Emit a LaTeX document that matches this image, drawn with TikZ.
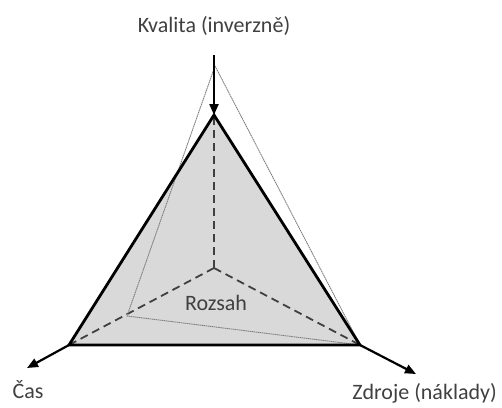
\documentclass[tikz,border=0pt]{standalone}
\usepackage{fontspec}
\setmainfont{Carlito}
\usetikzlibrary{arrows.meta}
\begin{document}
\begin{tikzpicture}[x=1pt,y=-1pt,
  lbl/.style={font=\fontsize{22}{26}\selectfont, text=black!75, inner sep=0pt},
  axisarrow/.style={line width=2.2pt, -{Triangle[length=11pt,width=9pt]}},
  thick tri/.style={line width=2.8pt, line join=miter},
  dashline/.style={line width=1.8pt, dash pattern=on 8pt off 5pt, black!75},
  thin tri/.style={line width=0.9pt, black!50, dash pattern=on 1.5pt off 0.6pt}]
\useasboundingbox (0,0) rectangle (502,407);
\coordinate (C) at (214,268);
\coordinate (T) at (214,115);
\coordinate (L) at (69,345);
\coordinate (R) at (360,345);
\coordinate (Ttop) at (214,55);
\coordinate (Lend) at (27,368);
\coordinate (Rend) at (416,374);
\coordinate (tT) at (215,66);
\coordinate (tL) at (127,316);
\fill[black!15] (T) -- (L) -- (R) -- cycle;
\draw[dashline] (C) -- (T);
\draw[dashline] (C) -- (L);
\draw[dashline] (C) -- (R);
\draw[thin tri] (tT) -- (tL) -- (R) -- cycle;
\draw[thick tri] (T) -- (L) -- (R) -- cycle;
\draw[axisarrow] (Ttop) -- (T);
\draw[axisarrow] (L) -- (Lend);
\draw[axisarrow] (R) -- (Rend);
\node[lbl] (q) at (214,26) {Kvalita (inverzně)};
\node[lbl] (c) at (28,390) {Čas};
\node[lbl, anchor=east] (z) at (497,393) {Zdroje (náklady)};
\node[lbl] (s) at (216,303) {Rozsah};
\end{tikzpicture}
\end{document}
